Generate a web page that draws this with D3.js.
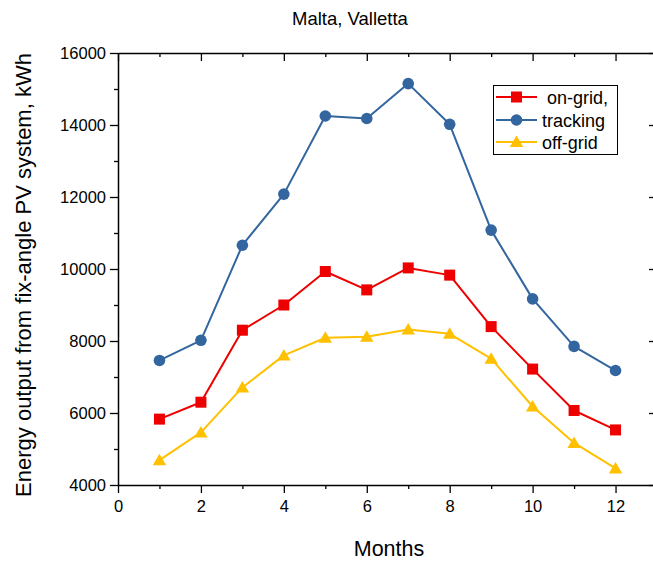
<!DOCTYPE html>
<html>
<head>
<meta charset="utf-8">
<script src="https://cdn.jsdelivr.net/npm/d3@7"></script>
<style>
  html, body { margin: 0; padding: 0; background: #fff; }
  svg { display: block; font-family: "Liberation Sans", Arial, sans-serif; }
</style>
</head>
<body>
<svg id="chart" width="653" height="563"></svg>
<script>
const months = [1, 2, 3, 4, 5, 6, 7, 8, 9, 10, 11, 12];
const onGrid = [5830, 6300, 8300, 9000, 9930, 9420, 10030, 9830, 8400, 7220, 6070, 5530];
const tracking = [7460, 8020, 10660, 12080, 14250, 14180, 15150, 14020, 11080, 9170, 7850, 7180];
const offGrid = [4690, 5460, 6710, 7600, 8090, 8120, 8320, 8200, 7510, 6180, 5170, 4460];
const seriesNames = [" on-grid,", "tracking", "off-grid"];
const xTicks = [0, 2, 4, 6, 8, 10, 12];
const yTicks = [4000, 6000, 8000, 10000, 12000, 14000, 16000];

const svg = d3.select("#chart");
const L = 118, R = 657, T = 53, B = 485;
const x = d3.scaleLinear().domain([0, 13]).range([L, R]);
const y = d3.scaleLinear().domain([4000, 16000]).range([B, T]);

const xMinor = d3.range(1, 13, 2);
const yMinor = d3.range(5000, 16000, 2000);

function styleAxis(g) {
  g.select(".domain").attr("stroke", "#000").attr("stroke-width", 1.5);
  g.selectAll(".tick line").attr("stroke", "#000").attr("stroke-width", 1.3);
  g.selectAll("text").attr("fill", "#000").attr("font-size", 16.5)
   .attr("font-family", '"Liberation Sans", Arial, sans-serif');
}

// bottom axis
const gB = svg.append("g").attr("transform", `translate(0,${B})`)
  .call(d3.axisBottom(x).tickValues(xTicks).tickSize(8).tickPadding(7).tickSizeOuter(0));
styleAxis(gB);
svg.append("g").attr("transform", `translate(0,${B})`)
  .call(d3.axisBottom(x).tickValues(xMinor).tickSize(4).tickFormat("").tickSizeOuter(0))
  .call(g => { g.select(".domain").remove(); g.selectAll("line").attr("stroke", "#000").attr("stroke-width", 1.3); });

// top axis (inward ticks)
const gT = svg.append("g").attr("transform", `translate(0,${T})`)
  .call(d3.axisTop(x).tickValues(xTicks).tickSize(-8).tickFormat("").tickSizeOuter(0));
styleAxis(gT);
svg.append("g").attr("transform", `translate(0,${T})`)
  .call(d3.axisTop(x).tickValues(xMinor).tickSize(-4).tickFormat("").tickSizeOuter(0))
  .call(g => { g.select(".domain").remove(); g.selectAll("line").attr("stroke", "#000").attr("stroke-width", 1.3); });

// left axis
const gL = svg.append("g").attr("transform", `translate(${L},0)`)
  .call(d3.axisLeft(y).tickValues(yTicks).tickSize(8).tickPadding(4).tickFormat(d3.format("d")).tickSizeOuter(0));
styleAxis(gL);
svg.append("g").attr("transform", `translate(${L},0)`)
  .call(d3.axisLeft(y).tickValues(yMinor).tickSize(4).tickFormat("").tickSizeOuter(0))
  .call(g => { g.select(".domain").remove(); g.selectAll("line").attr("stroke", "#000").attr("stroke-width", 1.3); });

// right axis (inward ticks)
const gR = svg.append("g").attr("transform", `translate(${R},0)`)
  .call(d3.axisRight(y).tickValues(yTicks).tickSize(-8).tickFormat("").tickSizeOuter(0));
styleAxis(gR);
svg.append("g").attr("transform", `translate(${R},0)`)
  .call(d3.axisRight(y).tickValues(yMinor).tickSize(-4).tickFormat("").tickSizeOuter(0))
  .call(g => { g.select(".domain").remove(); g.selectAll("line").attr("stroke", "#000").attr("stroke-width", 1.3); });

// series
const colors = ["#ee0000", "#33669f", "#ffc000"];
const data = [onGrid, tracking, offGrid];
const triPath = "M0,-6.5L6.7,5L-6.7,5Z";

function drawMarker(g, kind, cx, cy, color) {
  if (kind === 0) {
    g.append("rect").attr("x", cx - 5.5).attr("y", cy - 5.5).attr("width", 11).attr("height", 11).attr("fill", color);
  } else if (kind === 1) {
    g.append("circle").attr("cx", cx).attr("cy", cy).attr("r", 5.8).attr("fill", color);
  } else {
    g.append("path").attr("d", triPath).attr("transform", `translate(${cx},${cy})`).attr("fill", color);
  }
}

const line = d3.line().x((d, i) => x(months[i])).y(d => y(d));
const order = [1, 0, 2];
order.forEach(k => {
  const g = svg.append("g");
  g.append("path").datum(data[k]).attr("d", line).attr("fill", "none")
    .attr("stroke", colors[k]).attr("stroke-width", 2).attr("stroke-linejoin", "round");
  data[k].forEach((v, i) => drawMarker(g, k, x(months[i]), y(v), colors[k]));
});

// legend
const lg = svg.append("g");
lg.append("rect").attr("x", 493.5).attr("y", 85.5).attr("width", 124).attr("height", 69)
  .attr("fill", "#fff").attr("stroke", "#000").attr("stroke-width", 1);
const rowY = [97, 120, 142];
seriesNames.forEach((name, k) => {
  lg.append("line").attr("x1", 496).attr("x2", 537).attr("y1", rowY[k]).attr("y2", rowY[k])
    .attr("stroke", colors[k]).attr("stroke-width", 2);
  drawMarker(lg, k, 516.5, rowY[k], colors[k]);
  lg.append("text").attr("x", 542).attr("y", rowY[k] + 6.5).attr("font-size", 18)
    .attr("fill", "#000").style("white-space", "pre").text(name);
});

// title and axis titles
svg.append("text").attr("x", 350).attr("y", 25).attr("text-anchor", "middle")
  .attr("font-size", 18.5).attr("fill", "#000").text("Malta, Valletta");
svg.append("text").attr("x", 389).attr("y", 556).attr("text-anchor", "middle")
  .attr("font-size", 21.5).attr("fill", "#000").text("Months");
svg.append("text").attr("transform", "translate(31,275) rotate(-90)").attr("text-anchor", "middle")
  .attr("font-size", 22).attr("fill", "#000").text("Energy output from fix-angle PV system, kWh");
</script>
</body>
</html>
